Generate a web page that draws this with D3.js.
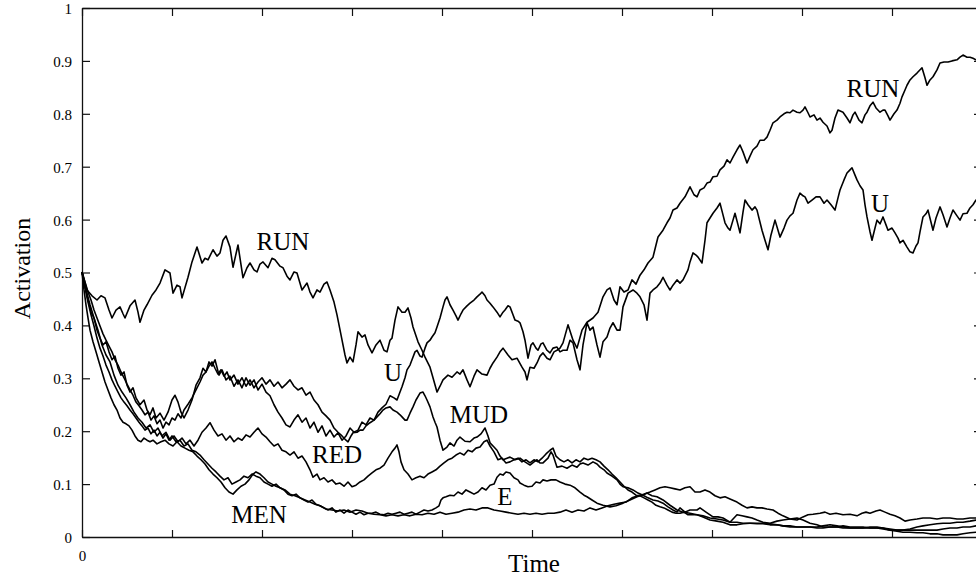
<!DOCTYPE html>
<html>
<head>
<meta charset="utf-8">
<script src="https://cdn.jsdelivr.net/npm/d3@7"></script>
<style>
  html, body { margin: 0; padding: 0; background: #fff; }
  svg { display: block; }
  text { font-family: "Liberation Serif", "Times New Roman", "DejaVu Serif", serif; fill: #000; }
</style>
</head>
<body>
<div id="chart"></div>
<script>
// ---- data (time in arbitrary steps, activation 0..1) ----
const xTicks = [0, 90, 180, 270, 360, 450, 540, 630, 720, 810, 900];
const xTickLabels = ["0", "", "", "", "", "", "", "", "", "", ""];
const yTicks = [0, 0.1, 0.2, 0.3, 0.4, 0.5, 0.6, 0.7, 0.8, 0.9, 1];
const yTickLabels = ["0", "0.1", "0.2", "0.3", "0.4", "0.5", "0.6", "0.7", "0.8", "0.9", "1"];
const seriesNames = ["RUN", "U", "MUD", "RED", "E", "MEN"];

const RUN = [[0,.501],[5,.467],[10,.456],[15,.448],[19,.456],[23,.452],[27,.429],[30,.414],[34,.429],[38,.435],[41,.422],[43,.414],[48,.437],[53,.448],[56,.425],[58,.406],[62,.429],[65,.439],[70,.457],[74,.467],[78,.480],[83,.505],[88,.499],[91,.461],[95,.476],[98,.473],[100,.452],[106,.491],[110,.520],[115,.548],[120,.518],[123,.527],[126,.524],[131,.543],[135,.531],[138,.537],[141,.561],[144,.569],[148,.548],[151,.510],[156,.552],[161,.490],[165,.509],[168,.518],[172,.505],[175,.501],[178,.516],[181,.520],[186,.509],[190,.527],[193,.524],[198,.512],[201,.509],[205,.493],[208,.486],[212,.501],[215,.499],[220,.467],[225,.480],[228,.463],[231,.452],[235,.467],[238,.463],[242,.478],[245,.482],[248,.467],[252,.444],[255,.420],[259,.382],[263,.344],[265,.329],[268,.340],[271,.331],[274,.363],[276,.388],[280,.378],[283,.382],[286,.363],[290,.348],[294,.363],[298,.372],[302,.353],[305,.350],[308,.372],[310,.376],[313,.410],[316,.435],[320,.425],[323,.425],[326,.433],[329,.414],[331,.397],[336,.369],[340,.353],[343,.340],[348,.321],[351,.301],[355,.274],[358,.285],[361,.297],[366,.306],[370,.302],[375,.312],[378,.308],[381,.316],[385,.297],[388,.284],[392,.304],[395,.316],[400,.308],[405,.306],[408,.319],[411,.329],[415,.340],[418,.350],[421,.357],[426,.344],[430,.335],[435,.338],[440,.321],[443,.312],[445,.297],[448,.321],[452,.319],[455,.329],[458,.342],[461,.348],[465,.338],[468,.335],[472,.350],[475,.353],[478,.357],[481,.367],[486,.401],[491,.372],[495,.357],[500,.391],[505,.406],[511,.414],[516,.425],[521,.454],[525,.467],[528,.471],[532,.448],[535,.439],[538,.473],[542,.463],[546,.467],[550,.486],[554,.478],[558,.495],[562,.505],[566,.518],[571,.529],[574,.552],[576,.567],[581,.580],[585,.594],[588,.603],[591,.618],[595,.622],[598,.631],[603,.643],[608,.662],[612,.647],[615,.643],[618,.656],[622,.660],[625,.669],[628,.671],[631,.681],[635,.682],[638,.694],[642,.701],[645,.713],[648,.707],[651,.718],[655,.732],[658,.741],[661,.728],[665,.707],[668,.720],[671,.732],[675,.739],[678,.750],[682,.750],[685,.756],[688,.769],[691,.783],[695,.788],[698,.794],[702,.800],[705,.803],[708,.802],[711,.807],[715,.803],[718,.802],[721,.807],[723,.813],[726,.802],[728,.794],[732,.798],[735,.788],[738,.792],[741,.784],[745,.777],[748,.764],[750,.769],[753,.792],[756,.807],[761,.803],[765,.792],[768,.783],[771,.798],[773,.803],[777,.788],[780,.783],[783,.798],[785,.803],[788,.815],[791,.822],[794,.811],[798,.803],[801,.807],[803,.807],[806,.796],[808,.788],[812,.800],[815,.807],[818,.820],[820,.832],[823,.845],[825,.854],[828,.864],[831,.870],[835,.877],[840,.887],[843,.868],[845,.854],[848,.864],[851,.870],[855,.883],[858,.896],[862,.898],[866,.898],[870,.900],[875,.902],[878,.907],[881,.911],[885,.907],[888,.907],[891,.905],[894,.902],[900,.898]];

const U = [[0,.501],[3,.476],[6,.448],[9,.425],[12,.414],[15,.391],[18,.376],[21,.363],[24,.369],[27,.350],[30,.335],[33,.342],[36,.319],[39,.306],[42,.312],[45,.287],[48,.274],[51,.282],[54,.263],[58,.250],[62,.259],[65,.240],[68,.231],[71,.244],[74,.225],[78,.234],[82,.221],[86,.236],[90,.259],[93,.268],[96,.255],[99,.236],[102,.225],[106,.240],[110,.259],[114,.287],[118,.301],[121,.319],[124,.312],[127,.331],[130,.323],[133,.335],[137,.306],[140,.316],[144,.297],[148,.304],[152,.285],[156,.297],[160,.282],[164,.301],[168,.287],[172,.297],[176,.278],[180,.289],[184,.274],[188,.267],[192,.250],[196,.236],[200,.225],[204,.212],[208,.208],[212,.221],[216,.231],[220,.217],[224,.225],[228,.206],[232,.217],[236,.198],[240,.210],[244,.191],[248,.202],[252,.189],[256,.197],[260,.183],[264,.191],[268,.206],[272,.198],[276,.202],[280,.217],[284,.212],[288,.225],[292,.221],[296,.236],[300,.244],[304,.251],[308,.267],[312,.263],[315,.259],[318,.274],[320,.284],[323,.301],[325,.316],[328,.325],[330,.335],[333,.350],[335,.353],[338,.342],[340,.340],[343,.357],[345,.367],[348,.372],[350,.378],[353,.386],[355,.397],[358,.414],[361,.435],[363,.448],[365,.454],[368,.439],[371,.429],[374,.418],[376,.410],[379,.422],[381,.429],[385,.437],[388,.442],[392,.448],[395,.454],[398,.459],[400,.463],[403,.456],[405,.448],[408,.442],[411,.435],[415,.425],[418,.416],[421,.425],[423,.429],[426,.437],[428,.435],[431,.420],[433,.410],[436,.408],[438,.405],[441,.388],[443,.372],[446,.338],[449,.363],[451,.367],[454,.357],[456,.353],[459,.365],[461,.367],[465,.353],[468,.348],[471,.357],[475,.359],[478,.350],[481,.353],[485,.353],[488,.372],[491,.367],[495,.335],[498,.316],[501,.363],[505,.405],[508,.391],[511,.397],[515,.363],[518,.340],[521,.369],[525,.378],[528,.395],[531,.405],[535,.391],[538,.391],[541,.435],[546,.461],[551,.467],[555,.461],[558,.454],[562,.439],[565,.410],[568,.461],[571,.467],[575,.473],[578,.480],[581,.491],[585,.476],[588,.467],[591,.476],[595,.486],[598,.480],[601,.486],[606,.505],[608,.520],[611,.537],[614,.533],[616,.529],[620,.518],[623,.561],[625,.594],[628,.603],[631,.612],[635,.622],[638,.631],[641,.609],[643,.594],[646,.584],[648,.580],[651,.599],[653,.612],[656,.590],[658,.575],[661,.614],[663,.637],[666,.628],[670,.618],[673,.624],[675,.618],[678,.595],[680,.580],[683,.561],[686,.543],[689,.571],[693,.599],[696,.580],[698,.567],[702,.584],[705,.599],[708,.607],[711,.612],[715,.637],[718,.650],[721,.645],[723,.643],[726,.631],[730,.637],[734,.643],[738,.643],[742,.631],[745,.637],[749,.628],[753,.618],[756,.641],[758,.656],[762,.675],[765,.688],[768,.694],[770,.698],[773,.684],[775,.675],[778,.664],[781,.656],[783,.628],[785,.605],[788,.577],[790,.561],[793,.584],[795,.599],[798,.592],[801,.605],[804,.590],[806,.580],[810,.584],[813,.575],[816,.565],[818,.556],[821,.561],[825,.548],[828,.539],[831,.537],[834,.550],[836,.556],[838,.577],[841,.605],[844,.611],[846,.618],[849,.595],[851,.580],[854,.603],[858,.624],[861,.609],[865,.586],[868,.603],[871,.618],[875,.607],[878,.599],[881,.611],[885,.612],[888,.622],[891,.628],[894,.637],[900,.628]];

const MUD = [[0,.501],[3,.482],[6,.463],[9,.448],[12,.429],[15,.414],[18,.399],[21,.384],[24,.372],[27,.361],[30,.350],[33,.335],[36,.325],[39,.312],[42,.301],[45,.289],[48,.278],[51,.268],[54,.255],[57,.248],[60,.240],[63,.231],[66,.236],[69,.221],[72,.229],[75,.214],[78,.221],[81,.206],[84,.217],[87,.212],[90,.225],[93,.221],[96,.233],[99,.225],[102,.240],[106,.251],[110,.263],[114,.278],[118,.293],[121,.306],[124,.312],[127,.323],[130,.331],[133,.319],[136,.308],[139,.316],[142,.304],[145,.312],[148,.297],[152,.306],[156,.289],[160,.301],[164,.285],[168,.297],[172,.282],[176,.293],[180,.301],[184,.289],[188,.297],[192,.285],[196,.293],[200,.282],[204,.289],[208,.297],[212,.285],[216,.278],[220,.282],[224,.268],[228,.274],[232,.259],[236,.250],[240,.236],[244,.229],[248,.221],[252,.206],[256,.198],[260,.191],[264,.183],[266,.180],[269,.191],[271,.197],[275,.198],[278,.202],[281,.202],[284,.210],[288,.216],[292,.221],[295,.227],[298,.233],[301,.240],[304,.244],[308,.246],[311,.240],[315,.236],[318,.231],[320,.227],[323,.221],[325,.221],[328,.234],[331,.246],[334,.259],[338,.272],[341,.274],[343,.267],[345,.259],[348,.246],[351,.227],[353,.217],[355,.208],[358,.183],[361,.164],[365,.170],[368,.178],[372,.172],[375,.183],[378,.189],[383,.181],[388,.180],[392,.187],[395,.189],[399,.195],[403,.206],[406,.191],[408,.178],[412,.170],[415,.164],[418,.153],[421,.146],[425,.149],[428,.151],[433,.146],[438,.149],[443,.142],[448,.136],[452,.142],[455,.146],[458,.140],[461,.140],[466,.149],[469,.161],[471,.155],[475,.132],[480,.134],[485,.130],[490,.136],[495,.132],[498,.138],[501,.140],[506,.136],[511,.142],[515,.138],[518,.132],[522,.127],[525,.121],[530,.115],[535,.108],[538,.100],[541,.095],[546,.093],[551,.089],[556,.083],[561,.079],[566,.074],[571,.070],[576,.068],[581,.064],[586,.057],[591,.051],[595,.047],[598,.055],[603,.047],[608,.051],[615,.051],[618,.055],[624,.047],[631,.038],[636,.038],[641,.036],[648,.028],[655,.042],[660,.040],[665,.038],[670,.036],[675,.032],[681,.028],[688,.026],[695,.030],[701,.032],[708,.034],[715,.036],[721,.032],[728,.026],[735,.023],[741,.019],[748,.019],[755,.019],[761,.021],[768,.019],[775,.019],[781,.019],[788,.017],[795,.017],[801,.015],[808,.013],[815,.013],[821,.013],[828,.015],[835,.019],[841,.021],[848,.023],[855,.025],[861,.026],[868,.026],[875,.028],[881,.028],[888,.030],[894,.032],[900,.032]];

const RED = [[0,.501],[4,.467],[8,.439],[12,.414],[16,.391],[20,.363],[24,.344],[28,.331],[32,.306],[36,.287],[40,.274],[44,.263],[48,.250],[52,.236],[56,.225],[60,.217],[64,.206],[68,.212],[72,.198],[76,.206],[80,.191],[84,.198],[88,.183],[92,.191],[96,.180],[100,.187],[104,.176],[108,.183],[112,.172],[116,.183],[120,.198],[124,.206],[128,.216],[132,.202],[136,.191],[140,.195],[144,.183],[148,.191],[152,.180],[156,.187],[160,.183],[164,.193],[168,.189],[172,.198],[176,.206],[180,.195],[184,.189],[188,.180],[192,.172],[196,.176],[200,.164],[204,.161],[208,.155],[212,.161],[216,.149],[220,.153],[224,.142],[228,.127],[231,.113],[235,.119],[238,.108],[242,.112],[246,.104],[250,.108],[254,.100],[258,.102],[262,.096],[266,.104],[270,.095],[274,.098],[278,.104],[282,.108],[286,.115],[290,.121],[294,.127],[298,.130],[302,.136],[306,.149],[310,.161],[313,.168],[315,.174],[317,.161],[319,.142],[322,.127],[326,.119],[330,.108],[334,.112],[338,.115],[342,.112],[346,.119],[350,.123],[354,.127],[358,.134],[362,.140],[366,.146],[370,.149],[374,.155],[378,.159],[382,.155],[386,.164],[390,.161],[394,.168],[398,.170],[402,.180],[405,.183],[408,.172],[412,.161],[416,.146],[420,.149],[424,.140],[428,.142],[432,.146],[436,.149],[440,.142],[444,.146],[448,.140],[452,.146],[456,.142],[460,.149],[464,.157],[468,.164],[471,.168],[474,.153],[478,.146],[482,.142],[486,.146],[490,.140],[494,.146],[498,.142],[502,.149],[506,.146],[510,.149],[514,.146],[518,.142],[522,.134],[526,.127],[530,.119],[534,.112],[538,.104],[542,.096],[546,.089],[550,.085],[554,.079],[558,.078],[562,.074],[566,.070],[570,.066],[574,.060],[578,.057],[582,.055],[586,.051],[590,.047],[594,.045],[598,.045],[602,.047],[606,.042],[610,.042],[615,.042],[621,.038],[628,.032],[635,.030],[641,.028],[648,.023],[655,.023],[661,.025],[668,.026],[675,.026],[681,.026],[688,.025],[695,.023],[701,.021],[708,.019],[715,.019],[721,.019],[728,.019],[735,.019],[741,.021],[748,.023],[755,.021],[761,.019],[768,.017],[775,.017],[781,.017],[788,.017],[795,.017],[801,.017],[808,.015],[815,.013],[821,.013],[828,.013],[835,.013],[841,.013],[848,.013],[855,.013],[861,.015],[868,.017],[875,.017],[881,.019],[888,.019],[894,.021],[900,.021]];

const E = [[0,.501],[3,.471],[6,.444],[9,.420],[12,.399],[15,.376],[18,.357],[21,.342],[24,.325],[27,.312],[30,.297],[33,.285],[36,.274],[39,.263],[42,.255],[45,.248],[48,.240],[51,.233],[54,.225],[57,.217],[60,.210],[63,.202],[66,.206],[69,.195],[72,.202],[75,.191],[78,.198],[81,.187],[84,.195],[87,.183],[90,.191],[94,.180],[98,.183],[102,.172],[106,.176],[110,.164],[114,.161],[118,.155],[122,.146],[126,.138],[130,.130],[134,.123],[138,.115],[142,.108],[146,.112],[150,.100],[154,.104],[158,.108],[162,.115],[166,.112],[170,.119],[174,.115],[178,.112],[182,.104],[186,.100],[190,.096],[194,.100],[198,.093],[202,.089],[206,.081],[210,.078],[214,.081],[218,.074],[222,.070],[226,.066],[230,.070],[234,.062],[238,.059],[242,.055],[246,.051],[250,.055],[254,.047],[258,.051],[262,.045],[266,.051],[270,.047],[274,.043],[278,.047],[282,.042],[286,.045],[290,.045],[294,.047],[298,.043],[302,.042],[306,.045],[310,.043],[314,.045],[318,.047],[322,.043],[326,.045],[330,.047],[334,.043],[338,.047],[342,.051],[346,.049],[350,.051],[354,.055],[357,.059],[359,.070],[361,.074],[364,.076],[368,.079],[372,.078],[376,.085],[380,.081],[384,.089],[388,.085],[392,.081],[396,.085],[400,.093],[404,.089],[408,.098],[412,.100],[415,.113],[418,.119],[421,.117],[424,.123],[428,.121],[432,.112],[436,.108],[438,.102],[442,.098],[446,.095],[450,.096],[454,.104],[458,.102],[461,.108],[465,.106],[469,.108],[474,.108],[478,.104],[483,.100],[488,.098],[493,.093],[498,.085],[502,.079],[505,.076],[510,.070],[515,.064],[521,.060],[528,.057],[534,.059],[541,.064],[548,.070],[555,.076],[560,.079],[565,.083],[570,.078],[575,.076],[581,.070],[588,.060],[595,.051],[601,.047],[608,.045],[615,.042],[621,.040],[628,.036],[635,.034],[641,.032],[648,.028],[655,.028],[661,.026],[668,.026],[675,.025],[681,.025],[688,.023],[695,.023],[701,.021],[708,.021],[715,.019],[721,.019],[728,.019],[735,.017],[741,.017],[748,.019],[755,.019],[761,.017],[768,.017],[775,.017],[781,.017],[788,.019],[795,.019],[801,.017],[808,.013],[815,.011],[821,.009],[828,.009],[835,.008],[841,.008],[848,.006],[855,.006],[861,.004],[868,.004],[875,.004],[881,.006],[888,.008],[894,.009],[900,.009]];

const MEN = [[0,.501],[2,.467],[4,.439],[6,.414],[8,.391],[11,.369],[14,.350],[17,.331],[20,.312],[23,.293],[26,.278],[29,.263],[32,.250],[35,.240],[38,.225],[41,.217],[44,.214],[47,.210],[50,.202],[53,.191],[56,.183],[59,.180],[62,.187],[65,.183],[68,.180],[71,.183],[75,.176],[79,.180],[83,.183],[87,.176],[91,.172],[95,.180],[99,.172],[103,.168],[107,.164],[111,.161],[115,.153],[119,.146],[123,.138],[127,.127],[131,.119],[135,.112],[139,.104],[143,.093],[147,.085],[151,.081],[155,.089],[159,.096],[163,.100],[167,.108],[171,.119],[174,.123],[178,.119],[182,.112],[186,.104],[190,.100],[194,.096],[198,.093],[203,.089],[208,.081],[213,.078],[218,.074],[223,.070],[228,.066],[233,.062],[238,.059],[244,.053],[250,.051],[256,.049],[262,.051],[268,.047],[274,.051],[280,.049],[286,.045],[292,.043],[298,.042],[304,.040],[310,.042],[316,.040],[322,.042],[328,.040],[334,.043],[340,.042],[346,.045],[352,.043],[358,.047],[364,.043],[370,.045],[376,.047],[382,.051],[388,.053],[394,.051],[400,.055],[406,.055],[412,.051],[418,.049],[424,.047],[430,.045],[436,.043],[442,.045],[448,.043],[454,.045],[460,.043],[466,.045],[472,.045],[478,.047],[484,.051],[490,.047],[496,.051],[502,.049],[508,.055],[514,.051],[520,.055],[526,.059],[532,.062],[538,.064],[544,.066],[550,.074],[556,.078],[562,.081],[568,.085],[573,.089],[578,.093],[583,.095],[588,.093],[593,.091],[598,.089],[603,.093],[608,.095],[613,.085],[618,.085],[623,.089],[628,.085],[633,.078],[638,.074],[643,.076],[648,.072],[655,.066],[660,.060],[665,.055],[670,.057],[675,.055],[680,.055],[685,.053],[691,.051],[696,.045],[701,.040],[708,.034],[715,.032],[721,.038],[726,.042],[731,.043],[738,.045],[743,.047],[748,.043],[754,.045],[761,.042],[768,.043],[775,.040],[780,.045],[784,.047],[788,.045],[794,.049],[798,.051],[803,.047],[808,.043],[813,.040],[818,.036],[823,.030],[828,.032],[835,.034],[841,.036],[848,.036],[855,.034],[861,.036],[868,.036],[875,.034],[881,.034],[888,.036],[894,.036],[900,.034]];

const seriesData = [RUN, U, MUD, RED, E, MEN];

// in-chart word labels, anchored in data coordinates (baseline centre)
const annotationText = ["RUN", "RUN", "U", "U", "MUD", "RED", "E", "MEN"];
const annotationTime = [201, 791, 798, 311, 397, 255, 423, 177];
const annotationAct  = [0.543, 0.832, 0.614, 0.295, 0.216, 0.140, 0.060, 0.026];

// ---- drawing ----
const W = 976, H = 578;
const margin = { left: 82, top: 8, right: -6, bottom: 41 };
const x = d3.scaleLinear().domain([0, 900]).range([margin.left, W - margin.right]);
const y = d3.scaleLinear().domain([0, 1]).range([H - margin.bottom, margin.top]);

const svg = d3.select("#chart").append("svg")
  .attr("width", W).attr("height", H).attr("viewBox", `0 0 ${W} ${H}`);

const frame = "#111";

// axes with inward ticks
const fmtX = (d, i) => xTickLabels[i];
const fmtY = (d, i) => yTickLabels[i];

const gBottom = svg.append("g").attr("transform", `translate(0,${y(0)})`)
  .call(d3.axisBottom(x).tickValues(xTicks).tickFormat(fmtX).tickSizeInner(-7).tickSizeOuter(0).tickPadding(13));
const gTop = svg.append("g").attr("transform", `translate(0,${y(1)})`)
  .call(d3.axisTop(x).tickValues(xTicks).tickFormat("").tickSizeInner(-8).tickSizeOuter(0));
const gLeft = svg.append("g").attr("transform", `translate(${x(0)},0)`)
  .call(d3.axisLeft(y).tickValues(yTicks).tickFormat(fmtY).tickSizeInner(-8).tickSizeOuter(0).tickPadding(10));
const gRight = svg.append("g").attr("transform", `translate(${x(900)},0)`)
  .call(d3.axisRight(y).tickValues(yTicks).tickFormat("").tickSizeInner(-8).tickSizeOuter(0));

[gBottom, gTop, gLeft, gRight].forEach(g => {
  g.attr("font-family", null);
  g.select(".domain").attr("stroke", frame).attr("stroke-width", 1.3);
  g.selectAll(".tick line").attr("stroke", frame).attr("stroke-width", 1.2);
  g.selectAll(".tick text").attr("font-size", 15).attr("fill", "#000");
});
gLeft.selectAll(".tick text").attr("dy", "0.36em");

// series lines
const line = d3.line().x(d => x(d[0])).y(d => y(d[1]));
svg.append("g").selectAll("path").data(seriesData).join("path")
  .attr("class", (d, i) => "series " + seriesNames[i])
  .attr("d", line)
  .attr("fill", "none")
  .attr("stroke", "#000")
  .attr("stroke-width", 1.6)
  .attr("stroke-linejoin", "round");

// word labels
svg.append("g").selectAll("text").data(annotationText).join("text")
  .attr("x", (d, i) => x(annotationTime[i]))
  .attr("y", (d, i) => y(annotationAct[i]))
  .attr("text-anchor", "middle")
  .attr("font-size", 25)
  .text(d => d);

// axis titles
svg.append("text")
  .attr("x", (x(0) + x(900)) / 2 + 2)
  .attr("y", 572)
  .attr("text-anchor", "middle")
  .attr("font-size", 25)
  .text("Time");

svg.append("text")
  .attr("transform", `translate(30,${(y(0) + y(1)) / 2 - 4}) rotate(-90)`)
  .attr("text-anchor", "middle")
  .attr("font-size", 24)
  .text("Activation");
</script>
</body>
</html>
